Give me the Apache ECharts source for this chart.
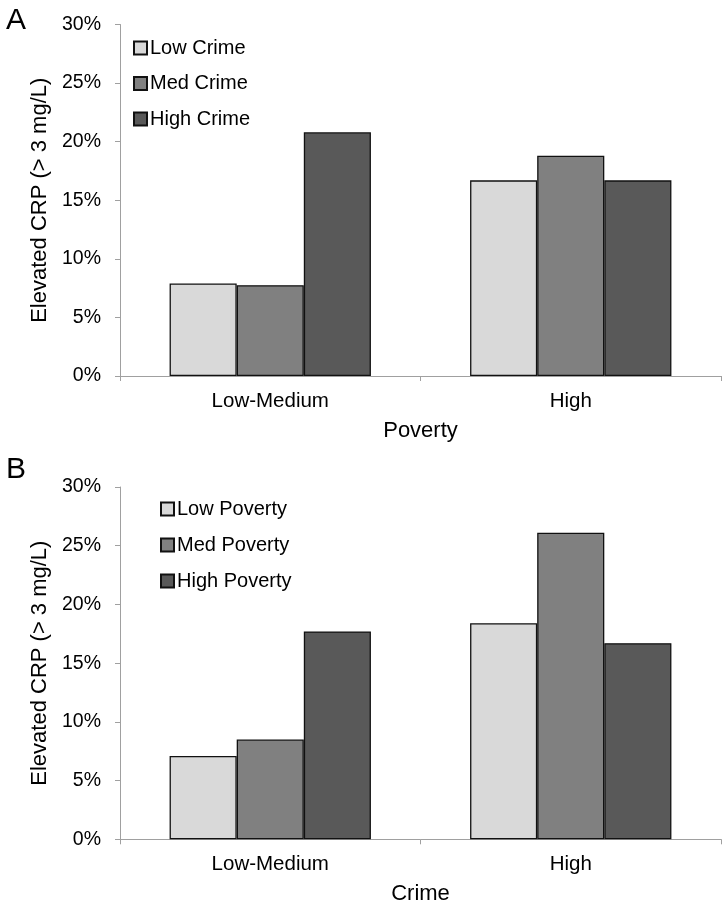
<!DOCTYPE html>
<html>
<head>
<meta charset="utf-8">
<script src="https://cdn.jsdelivr.net/npm/echarts@6/dist/echarts.min.js"></script>
<style>
html,body{margin:0;padding:0;background:#fff;}
#chart{width:728px;height:910px;}
</style>
</head>
<body>
<div id="chart"></div>
<script>
// Panel A: Poverty categories, Crime series
var categoriesA = ['Low-Medium', 'High'];
var lowCrime = [7.9, 16.7];
var medCrime = [7.75, 18.8];
var highCrime = [20.8, 16.7];
// Panel B: Crime categories, Poverty series
var categoriesB = ['Low-Medium', 'High'];
var lowPoverty = [7.1, 18.4];
var medPoverty = [8.5, 26.1];
var highPoverty = [17.7, 16.7];
var yTicks = [0, 5, 10, 15, 20, 25, 30];

var FONT = 'Liberation Sans, Arial, sans-serif';
var AXIS_COLOR = '#a0a0a0';
var colors = ['#d9d9d9', '#808080', '#595959'];

function xAxis(gridIndex, cats, name) {
  return {
    type: 'category', gridIndex: gridIndex, data: cats,
    name: name, nameLocation: 'middle', nameGap: 44,
    nameTextStyle: {fontFamily: FONT, fontSize: 22, color: '#000'},
    axisLine: {lineStyle: {color: AXIS_COLOR, width: 1}},
    axisTick: {show: true, length: 5, lineStyle: {color: AXIS_COLOR}},
    axisLabel: {fontFamily: FONT, fontSize: 20.5, color: '#000', margin: 15},
    splitLine: {show: false}
  };
}
function yAxis(gridIndex) {
  return {
    type: 'value', gridIndex: gridIndex, min: yTicks[0], max: yTicks[yTicks.length - 1], interval: 5,
    name: 'Elevated CRP (> 3 mg/L)', nameLocation: 'middle', nameGap: 61,
    nameTextStyle: {fontFamily: FONT, fontSize: 22, color: '#000'},
    axisLine: {show: true, lineStyle: {color: AXIS_COLOR, width: 1}},
    axisTick: {show: true, length: 5, lineStyle: {color: AXIS_COLOR}},
    axisLabel: {fontFamily: FONT, fontSize: 19.5, color: '#000', margin: 19, formatter: '{value}%'},
    splitLine: {show: false}
  };
}
function bar(name, data, idx, colorIdx) {
  return {
    type: 'bar', name: name, data: data, xAxisIndex: idx, yAxisIndex: idx,
    barGap: '0%', barCategoryGap: '33%',
    itemStyle: {color: colors[colorIdx], borderColor: '#111', borderWidth: 1.3},
    emphasis: {disabled: true}
  };
}

var chart = echarts.init(document.getElementById('chart'), null, {renderer: 'canvas'});
chart.setOption({
  backgroundColor: '#fff',
  animation: false,
  grid: [
    {left: 120, right: 7, top: 24.5, height: 351.5},
    {left: 120, right: 7, top: 487, height: 352.3}
  ],
  xAxis: [xAxis(0, categoriesA, 'Poverty'), xAxis(1, categoriesB, 'Crime')],
  yAxis: [yAxis(0), yAxis(1)],
  legend: [
    {data: ['Low Crime', 'Med Crime', 'High Crime'], orient: 'vertical', left: 128, top: 33,
     itemWidth: 13, itemHeight: 13, itemGap: 15.5, icon: 'rect',
     textStyle: {fontFamily: FONT, fontSize: 20, color: '#000', padding: [0, 0, 0, -2]}},
    {data: ['Low Poverty', 'Med Poverty', 'High Poverty'], orient: 'vertical', left: 155, top: 494,
     itemWidth: 13, itemHeight: 13, itemGap: 16, icon: 'rect',
     textStyle: {fontFamily: FONT, fontSize: 20, color: '#000', padding: [0, 0, 0, -2]}}
  ],
  graphic: [
    {type: 'text', left: 6, top: 6, style: {text: 'A', font: '30px ' + FONT, fill: '#000'}},
    {type: 'text', left: 6, top: 455, style: {text: 'B', font: '30px ' + FONT, fill: '#000'}}
  ],
  series: [
    bar('Low Crime', lowCrime, 0, 0),
    bar('Med Crime', medCrime, 0, 1),
    bar('High Crime', highCrime, 0, 2),
    bar('Low Poverty', lowPoverty, 1, 0),
    bar('Med Poverty', medPoverty, 1, 1),
    bar('High Poverty', highPoverty, 1, 2)
  ]
});
</script>
</body>
</html>
